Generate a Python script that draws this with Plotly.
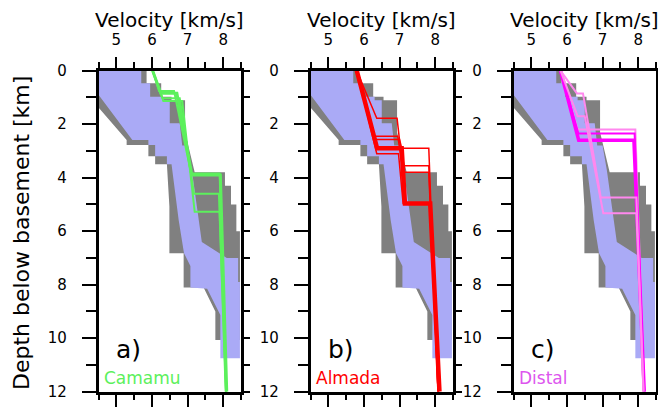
import plotly.graph_objects as go

# ---------------- data ----------------
velocity_ticks = [5, 6, 7, 8]
velocity_minor = [4.5, 5.5, 6.5, 7.5, 8.5]
depth_ticks = [0, 2, 4, 6, 8, 10, 12]
depth_minor = [1, 3, 5, 7, 9, 11]

# grey envelope (velocity, depth)
gray_v = [4.5, 5.85, 5.85, 6.26, 6.26, 6.55, 6.55, 6.93, 6.93, 7.2, 8.05, 8.05, 8.22, 8.22,
          8.37, 8.37, 8.47, 8.47, 7.78, 7.78, 7.45, 6.89, 6.89, 6.49, 6.49, 6.42, 6.09, 6.09,
          5.9, 5.9, 5.29, 5.29, 4.5, 4.5]
gray_z = [0, 0, 0.47, 0.47, 0.97, 0.97, 1.1, 1.1, 2.3, 3.8, 3.8, 4.3, 4.3, 5.0,
          5.0, 6.0, 6.0, 10.07, 10.07, 9.0, 8.1, 8.1, 6.82, 6.82, 5.08, 3.5, 3.5, 3.2,
          3.2, 2.78, 2.78, 2.59, 1.38, 0]

# blue envelope (velocity, depth)
blue_v = [4.5, 5.7, 5.7, 5.95, 5.95, 6.3, 6.3, 6.5, 6.5, 6.78, 6.85, 7.0, 7.12, 7.4, 8.1,
          8.42, 8.42, 8.47, 8.47, 7.92, 7.92, 7.55, 7.08, 7.08, 6.9, 6.75, 6.55, 6.42, 6.42,
          6.09, 6.09, 5.9, 5.9, 5.45, 4.5, 4.5]
blue_z = [0, 0, 0.47, 0.47, 0.97, 0.97, 1.1, 1.1, 1.96, 1.96, 2.8, 2.8, 3.72, 6.4, 7.0,
          7.0, 7.9, 7.9, 10.75, 10.75, 9.13, 8.15, 8.1, 7.3, 6.82, 5.58, 3.5, 3.5, 3.2,
          3.2, 2.78, 2.78, 2.59, 2.59, 0.9, 0]

# layered velocity profiles: interface depths, velocity at layer top / bottom
camamu_depths = [[0, 0.76, 3.84, 12], [0, 0.84, 3.9, 12], [0, 1.03, 4.6, 12], [0, 1.13, 5.27, 12]]
camamu_vtop = [[6.02, 6.62, 7.9], [6.02, 6.7, 7.92], [6.02, 6.78, 7.88], [6.02, 6.85, 7.9]]
camamu_vbot = [[6.2, 7.1, 8.08], [6.25, 7.12, 8.1], [6.3, 7.18, 8.07], [6.32, 7.2, 8.08]]

almada_depths = [[0, 1.78, 3.55, 12], [0, 2.45, 3.8, 12], [0, 2.57, 2.9, 12],
                 [0, 3.1, 4.96, 12], [0, 2.9, 4.96, 12]]
almada_vtop = [[5.8, 6.93, 7.82], [5.8, 6.95, 7.82], [5.8, 7.0, 7.82],
               [5.8, 6.97, 7.84], [5.8, 7.06, 7.86]]
almada_vbot = [[6.36, 7.08, 8.08], [6.3, 7.1, 8.08], [6.32, 7.06, 8.08],
               [6.36, 7.1, 8.1], [6.37, 7.15, 8.12]]

distal_depths = [[0, 2.2, 12], [0, 2.35, 12], [0, 2.6, 12], [0, 0.85, 4.74, 12], [0, 1.7, 5.33, 12]]
distal_vtop = [[5.82, 7.92], [5.82, 7.9], [5.82, 7.88], [5.82, 6.45, 7.95], [5.82, 6.5, 7.95]]
distal_vbot = [[6.3, 8.17], [6.32, 8.17], [6.33, 8.17], [6.28, 6.95, 8.15], [6.3, 7.02, 8.15]]

panel_letters = ["a)", "b)", "c)"]
panel_names = ["Camamu", "Almada", "Distal"]

# ---------------- styles ----------------
W, H = 666, 408
OFF = 8  # page body margin offset (pixels)
GRAY = "#808080"
BLUE = "#aaaaf6"
GREEN = "#5cf05c"
RED = "#ff0000"
MAG = "#ff00ff"
PINK = "#ff88ee"
FONT = "DejaVu Sans"

panel_px = [(98.5, 241.0), (310.5, 453.0), (513.5, 656.0)]
ytop_px, ybot_px = 70.7, 391.7


def px_x(p):
    return (p - OFF) / W


def px_y(p):
    return 1 - (p - OFF) / H


ydom = [px_y(ybot_px), px_y(ytop_px)]

profile_sets = [
    (camamu_depths, camamu_vtop, camamu_vbot, [GREEN] * 4, [2, 3, 2, 2]),
    (almada_depths, almada_vtop, almada_vbot, [RED] * 5, [1.5, 1.5, 1.5, 1.5, 4.5]),
    (distal_depths, distal_vtop, distal_vbot, [PINK, MAG, MAG, PINK, PINK], [2, 2, 3.5, 2, 2]),
]
label_colors = [GREEN, RED, "#dd55ee"]


def profile_xy(z, vt, vb):
    xs, ys = [], []
    for i in range(len(vt)):
        xs += [vt[i], vb[i]]
        ys += [z[i], z[i + 1]]
    return xs, ys


fig = go.Figure()
layout = {}
annotations = []

for i in range(3):
    n = i + 1
    xa = "x" if n == 1 else f"x{n}"
    ya = "y" if n == 1 else f"y{n}"
    xo, yo = f"x{n + 3}", f"y{n + 3}"

    fig.add_trace(go.Scatter(x=gray_v, y=gray_z, fill="toself", fillcolor=GRAY, mode="lines",
                             line=dict(width=0, color=GRAY), xaxis=xa, yaxis=ya,
                             showlegend=False, hoverinfo="skip"))
    fig.add_trace(go.Scatter(x=blue_v, y=blue_z, fill="toself", fillcolor=BLUE, mode="lines",
                             line=dict(width=0, color=BLUE), xaxis=xa, yaxis=ya,
                             showlegend=False, hoverinfo="skip"))
    depths, vt, vb, cols, widths = profile_sets[i]
    for k in range(len(depths)):
        xs, ys = profile_xy(depths[k], vt[k], vb[k])
        fig.add_trace(go.Scatter(x=xs, y=ys, mode="lines",
                                 line=dict(color=cols[k], width=widths[k]),
                                 xaxis=xa, yaxis=ya, showlegend=False, hoverinfo="skip"))
    fig.add_trace(go.Scatter(x=[None], y=[None], xaxis=xo, yaxis=yo, showlegend=False,
                             hoverinfo="skip", mode="lines"))

    x0, x1 = panel_px[i]
    dom = [px_x(x0), px_x(x1)]
    kx = "xaxis" if n == 1 else f"xaxis{n}"
    ky = "yaxis" if n == 1 else f"yaxis{n}"
    layout[kx] = dict(domain=dom, range=[4.5, 8.5], side="top", anchor=ya, automargin=False,
                      tickvals=velocity_ticks, ticks="outside", ticklen=11, tickwidth=1.5,
                      tickcolor="black", showline=True, linewidth=2.5, linecolor="black",
                      mirror=True, showgrid=False, zeroline=False, fixedrange=True,
                      tickfont=dict(family=FONT, size=15, color="black"), ticklabelstandoff=6,
                      minor=dict(tickvals=velocity_minor, ticks="outside", ticklen=6,
                                 tickwidth=1.5, tickcolor="black", showgrid=False))
    layout[ky] = dict(domain=ydom, range=[12, 0], anchor=xa, automargin=False,
                      tickvals=depth_ticks, ticks="outside", ticklen=14, tickwidth=1.5,
                      tickcolor="black", showline=True, linewidth=2.5, linecolor="black",
                      mirror=True, showgrid=False, zeroline=False, fixedrange=True,
                      tickfont=dict(family=FONT, size=15, color="black"), ticklabelstandoff=12,
                      minor=dict(tickvals=depth_minor, ticks="outside", ticklen=10,
                                 tickwidth=1.5, tickcolor="black", showgrid=False))
    layout[f"xaxis{n + 3}"] = dict(domain=dom, range=[4.5, 8.5], side="bottom", anchor=yo,
                                   overlaying=xa, tickvals=velocity_ticks, ticks="outside",
                                   ticklen=14, tickwidth=1.5, tickcolor="black", automargin=False,
                                   showticklabels=False, showline=False, showgrid=False,
                                   zeroline=False, fixedrange=True,
                                   minor=dict(tickvals=velocity_minor, ticks="outside", ticklen=7,
                                              tickwidth=1.5, tickcolor="black", showgrid=False))
    layout[f"yaxis{n + 3}"] = dict(domain=ydom, range=[12, 0], side="right", anchor=xo,
                                   overlaying=ya, tickvals=depth_ticks + depth_minor,
                                   ticks="outside", ticklen=8, tickwidth=1.5, tickcolor="black",
                                   showticklabels=False, showline=False, showgrid=False,
                                   zeroline=False, fixedrange=True, automargin=False)

    cx = (x0 + x1) / 2
    annotations.append(dict(text="Velocity [km/s]", x=px_x(cx), y=px_y(20), xref="paper",
                            yref="paper", showarrow=False, xanchor="center", yanchor="middle",
                            font=dict(family=FONT, size=20, color="black")))
    annotations.append(dict(text=panel_letters[i], x=px_x(x0 + 15), y=px_y(349),
                            xref="paper", yref="paper", showarrow=False, xanchor="left",
                            yanchor="middle", font=dict(family=FONT, size=25, color="black")))
    annotations.append(dict(text=panel_names[i], x=px_x(x0 + 3), y=px_y(378),
                            xref="paper", yref="paper", showarrow=False, xanchor="left",
                            yanchor="middle", font=dict(family=FONT, size=17, color=label_colors[i])))

annotations.append(dict(text="Depth below basement [km]", x=px_x(21), y=px_y(233),
                        xref="paper", yref="paper", showarrow=False, textangle=-90,
                        xanchor="center", yanchor="middle",
                        font=dict(family=FONT, size=22, color="black")))

fig.update_layout(width=W, height=H, margin=dict(l=0, r=0, t=0, b=0),
                  paper_bgcolor="white", plot_bgcolor="white",
                  annotations=annotations, **layout)

fig.write_html("out.html")
